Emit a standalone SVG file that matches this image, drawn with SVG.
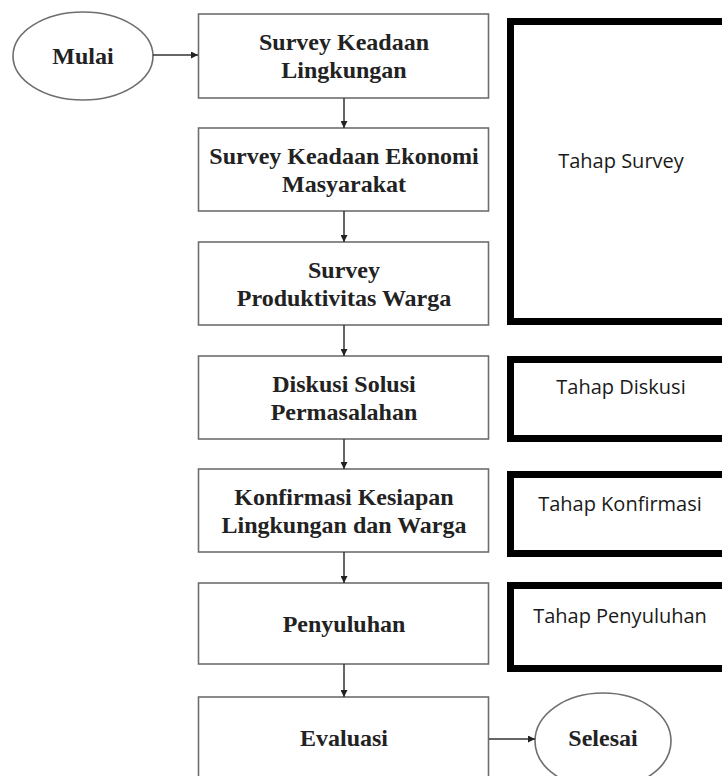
<svg xmlns="http://www.w3.org/2000/svg" width="722" height="776" viewBox="0 0 722 776">
<style>
.box{fill:#fff;stroke:#6e6e6e;stroke-width:1.6}
.stage{fill:#fff;stroke:#000;stroke-width:7}
.t{font-family:"Liberation Serif","Times New Roman",serif;font-weight:bold;font-size:24px;fill:#222;text-anchor:middle}
.s{font-family:"Open Sans","Noto Sans",sans-serif;font-size:20px;fill:#1a1a1a;text-anchor:middle}
.c{stroke:#333;stroke-width:1.5;fill:none;marker-end:url(#ah)}
</style>
<defs>
<marker id="ah" viewBox="0 0 10 10" refX="10" refY="5" markerWidth="7" markerHeight="7" markerUnits="userSpaceOnUse" orient="auto">
<path d="M0,0 L10,5 L0,10 z" fill="#222"/>
</marker>
</defs>
<rect width="722" height="776" fill="#fff"/>
<g id="mulai"><ellipse class="box" cx="83" cy="56" rx="70" ry="44"/><text class="t" x="83" y="64">Mulai</text></g>
<g id="n1"><rect class="box" x="198.5" y="14" width="290" height="84"/><text class="t" x="344" y="50">Survey Keadaan</text><text class="t" x="344" y="78">Lingkungan</text></g>
<g id="n2"><rect class="box" x="198.5" y="128" width="290" height="83"/><text class="t" x="344" y="164">Survey Keadaan Ekonomi</text><text class="t" x="344" y="192">Masyarakat</text></g>
<g id="n3"><rect class="box" x="198.5" y="242" width="290" height="83"/><text class="t" x="344" y="278">Survey</text><text class="t" x="344" y="306">Produktivitas Warga</text></g>
<g id="n4"><rect class="box" x="198.5" y="356" width="290" height="83"/><text class="t" x="344" y="392">Diskusi Solusi</text><text class="t" x="344" y="420">Permasalahan</text></g>
<g id="n5"><rect class="box" x="198.5" y="469" width="290" height="83"/><text class="t" x="344" y="505">Konfirmasi Kesiapan</text><text class="t" x="344" y="533">Lingkungan dan Warga</text></g>
<g id="n6"><rect class="box" x="198.5" y="583" width="290" height="81"/><text class="t" x="344" y="632">Penyuluhan</text></g>
<g id="n7"><rect class="box" x="198.5" y="697" width="290" height="100"/><text class="t" x="344" y="746">Evaluasi</text></g>
<g id="selesai"><ellipse class="box" cx="603" cy="741" rx="68" ry="48"/><text class="t" x="603" y="746">Selesai</text></g>
<g id="s1"><rect class="stage" x="510.5" y="21.5" width="240" height="300"/><text class="s" x="621" y="168">Tahap Survey</text></g>
<g id="s2"><rect class="stage" x="510.5" y="359.5" width="240" height="79"/><text class="s" x="621" y="394">Tahap Diskusi</text></g>
<g id="s3"><rect class="stage" x="510.5" y="474.5" width="240" height="79"/><text class="s" x="620" y="511">Tahap Konfirmasi</text></g>
<g id="s4"><rect class="stage" x="510.5" y="585.5" width="240" height="83"/><text class="s" x="620" y="623">Tahap Penyuluhan</text></g>
<g id="connectors">
<line class="c" x1="153" y1="55" x2="198" y2="55"/>
<line class="c" x1="344" y1="98" x2="344" y2="128"/>
<line class="c" x1="344" y1="211" x2="344" y2="242"/>
<line class="c" x1="344" y1="325" x2="344" y2="356"/>
<line class="c" x1="344" y1="439" x2="344" y2="469"/>
<line class="c" x1="344" y1="552" x2="344" y2="583"/>
<line class="c" x1="344" y1="664" x2="344" y2="697"/>
<line class="c" x1="489" y1="739" x2="535" y2="739"/>
</g>
</svg>
